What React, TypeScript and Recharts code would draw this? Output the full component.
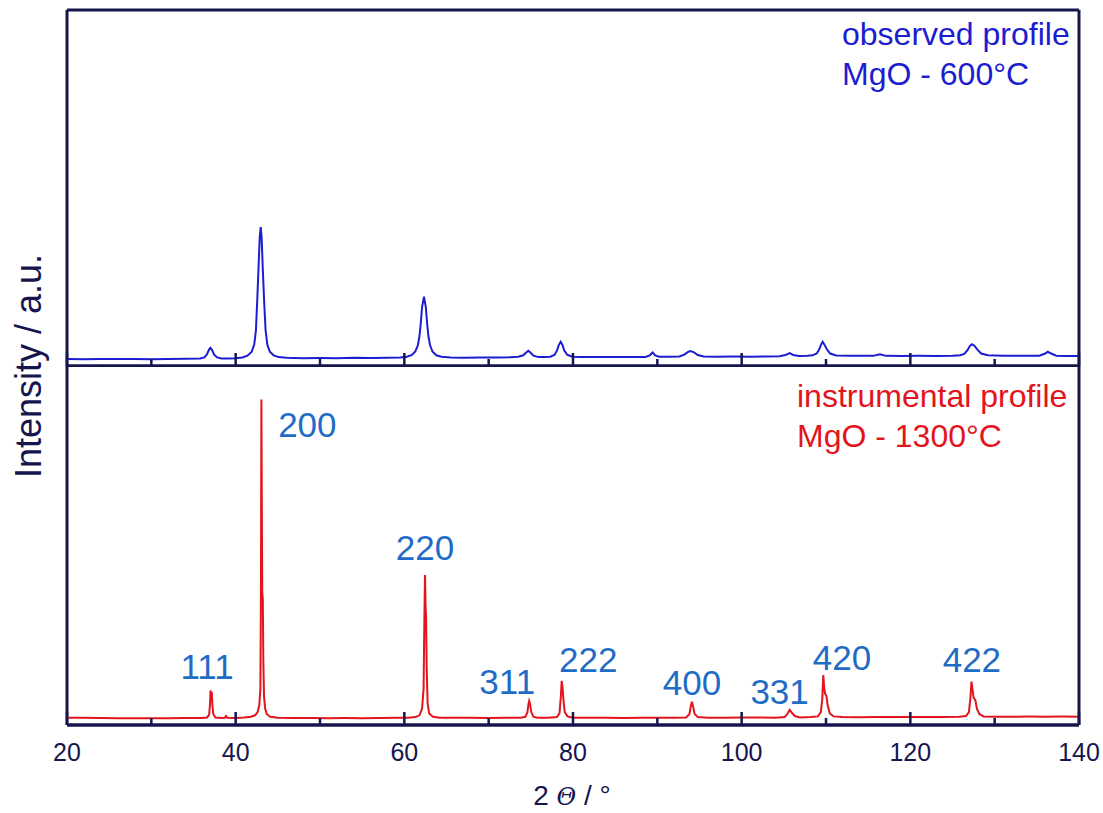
import { LineChart, Line, XAxis, YAxis, ReferenceLine, ReferenceDot } from 'recharts';

// 2-theta / intensity pairs (intensity in % of panel height)
const observedProfile: [number, number][] = [
  [20, 2.0], [22, 1.9], [24, 2.0], [26, 1.95], [28, 2.0], [30, 1.9], [32, 2.0], [34, 2.05], [35.8, 2.1],
  [36.3, 2.4], [36.6, 3.3], [36.85, 4.6], [37.0, 5.1], [37.2, 4.5], [37.45, 3.2], [37.8, 2.4], [38.3, 2.1], [39.2, 2.1], [40.0, 2.2],
  [40.8, 2.4], [41.4, 2.9], [41.9, 4.0], [42.2, 6.0], [42.4, 10], [42.55, 18], [42.7, 27], [42.85, 36], [42.97, 39],
  [43.08, 36], [43.22, 27], [43.38, 18], [43.55, 10], [43.75, 6.0], [44.05, 4.0], [44.5, 3.0], [45.1, 2.5],
  [46, 2.3], [48, 2.2], [50, 2.25], [52, 2.2], [54, 2.3], [56, 2.25], [58, 2.3],
  [59.5, 2.4], [60.3, 2.6], [60.9, 3.1], [61.3, 4.1], [61.6, 5.8], [61.8, 8.5], [61.95, 12], [62.1, 16.5], [62.33, 19.5],
  [62.55, 16.5], [62.7, 12], [62.85, 8.5], [63.05, 5.8], [63.35, 4.0], [63.8, 3.0], [64.4, 2.6], [65.5, 2.4],
  [67, 2.35], [69, 2.4], [71, 2.4], [72.5, 2.45],
  [73.5, 2.6], [74.1, 3.0], [74.45, 3.8], [74.7, 4.3], [74.95, 3.8], [75.3, 2.9], [75.9, 2.5], [76.6, 2.5],
  [77.3, 2.6], [77.8, 3.1], [78.1, 4.3], [78.3, 5.8], [78.54, 6.8], [78.75, 5.9], [78.95, 4.4], [79.3, 3.2], [79.9, 2.6],
  [81, 2.5], [83, 2.5], [85, 2.55], [87, 2.5], [88.6, 2.55],
  [89.1, 3.0], [89.45, 3.8], [89.75, 3.0], [90.2, 2.6], [91.5, 2.6],
  [92.6, 2.7], [93.2, 3.2], [93.6, 3.9], [93.9, 4.2], [94.3, 3.9], [94.8, 3.1], [95.5, 2.7],
  [97, 2.6], [99, 2.65], [101, 2.6], [103, 2.7], [104.5, 2.75],
  [105.2, 3.1], [105.7, 3.6], [106.1, 3.1], [106.8, 2.8], [107.8, 2.85],
  [108.4, 3.0], [108.9, 3.5], [109.2, 4.7], [109.42, 6.0], [109.6, 6.8], [109.82, 6.0], [110.1, 4.7], [110.5, 3.5], [111.2, 2.95],
  [113, 2.85], [115.6, 2.85], [116.4, 3.3], [117.1, 2.85], [119, 2.8], [121, 2.85], [123, 2.8], [125, 2.85],
  [125.9, 3.0], [126.4, 3.4], [126.8, 4.5], [127.05, 5.6], [127.3, 6.1], [127.6, 5.7], [127.95, 4.6], [128.4, 3.5], [129.2, 3.0],
  [131, 2.85], [133, 2.85], [135.3, 2.9], [136.0, 3.5], [136.3, 4.0], [136.7, 3.5], [137.3, 2.9], [138.5, 2.8], [140, 2.8],
];

const instrumentalProfile: [number, number][] = [
  [20, 2.0], [22, 2.05], [24, 1.95], [26, 1.9], [28, 1.85], [30, 1.9], [32, 1.9], [34, 1.95], [36, 1.95],
  [36.6, 2.1], [36.85, 2.8], [36.95, 5.5], [37.02, 9.6], [37.1, 8.6], [37.16, 9.2], [37.24, 5.5], [37.35, 3.0], [37.6, 2.1], [38.3, 1.95],
  [38.7, 2.0], [38.85, 2.5], [39.0, 2.0], [40, 1.95], [41, 2.1], [41.8, 2.3], [42.3, 2.7], [42.6, 3.6], [42.8, 5.5],
  [42.93, 10], [43.0, 38], [43.05, 90.7], [43.1, 62], [43.15, 37], [43.22, 35], [43.28, 18], [43.36, 8], [43.5, 4.5], [43.7, 3.0], [44.1, 2.3],
  [45, 2.0], [47, 1.95], [49, 1.95], [51, 1.9], [53, 1.95], [55, 1.9], [57, 1.95], [59, 2.0], [60.5, 2.05],
  [61.3, 2.2], [61.8, 2.7], [62.1, 4.5], [62.28, 10], [62.38, 30], [62.45, 41.8], [62.52, 33], [62.58, 30], [62.65, 16], [62.76, 6],
  [62.95, 3.2], [63.4, 2.3], [64.2, 2.05], [66, 2.0], [68, 2.0], [70, 1.95], [72, 2.0], [73.8, 2.05],
  [74.35, 2.3], [74.58, 3.4], [74.72, 5.8], [74.8, 6.7], [74.9, 6.0], [75.05, 3.6], [75.3, 2.3], [75.8, 2.05], [77, 2.0], [78.1, 2.2],
  [78.4, 3.3], [78.56, 8], [78.66, 12.3], [78.76, 10.5], [78.86, 7.2], [79.02, 3.6], [79.35, 2.4], [80, 2.05],
  [82, 2.0], [84, 2.0], [86, 1.95], [88, 2.0], [90, 2.0], [92, 2.05], [93.4, 2.1],
  [93.8, 3.0], [93.98, 5.4], [94.1, 6.5], [94.22, 5.4], [94.42, 3.1], [94.8, 2.2],
  [96, 2.05], [98, 2.05], [100, 2.1], [102, 2.1], [104, 2.05], [105.1, 2.2],
  [105.45, 3.2], [105.7, 4.2], [105.95, 3.4], [106.3, 2.5], [106.9, 2.1], [108.2, 2.2],
  [109.05, 2.4], [109.38, 3.6], [109.56, 7.2], [109.68, 13.9], [109.78, 10.5], [109.9, 8.6], [110.05, 8.2], [110.2, 5.5], [110.45, 3.2], [110.9, 2.4],
  [112, 2.2], [114, 2.15], [116, 2.25], [118, 2.2], [120, 2.25], [122, 2.2], [124, 2.25], [125.8, 2.3],
  [126.6, 2.5], [126.95, 3.6], [127.12, 7.5], [127.25, 12.1], [127.37, 10], [127.5, 7.6], [127.7, 7.0], [127.9, 4.5], [128.2, 3.0], [128.7, 2.4],
  [130, 2.3], [132, 2.3], [134, 2.35], [136, 2.3], [138, 2.35], [140, 2.3],
];

// hkl labels, placed at (2theta, intensity) of their text centre
const peakLabels = [
  { hkl: '111', t: 36.6, v: 16.2 },
  { hkl: '200', t: 48.5, v: 83.6 },
  { hkl: '220', t: 62.45, v: 49.3 },
  { hkl: '311', t: 72.2, v: 12.0 },
  { hkl: '222', t: 81.8, v: 18.1 },
  { hkl: '400', t: 94.1, v: 11.7 },
  { hkl: '331', t: 104.5, v: 9.2 },
  { hkl: '420', t: 111.9, v: 18.7 },
  { hkl: '422', t: 127.3, v: 18.1 },
];

const xTicks = [20, 30, 40, 50, 60, 70, 80, 90, 100, 110, 120, 130, 140];

const AXIS = '#16164f';
const BLUE = '#1c1cd0';
const RED = '#e3141c';
const HKL = '#1f6cc6';
const FONT = '"Liberation Sans", Arial, sans-serif';

const toRows = (pts: [number, number][]) => pts.map(([t, v]) => ({ t, v }));

function AxisTick(props: any) {
  const { x, y, payload, showLabel } = props;
  const major = payload.value % 20 === 0;
  return (
    <g>
      <line x1={x} x2={x} y1={y} y2={y - (major ? 13 : 7)} stroke={AXIS} strokeWidth={2.5} />
      {showLabel && major && (
        <text x={x} y={y + 27} textAnchor="middle" dominantBaseline="central" fontSize={25} fill={AXIS}>
          {payload.value}
        </text>
      )}
    </g>
  );
}

function Panel({ data, color, height, top, axisHeight, showLabels, children }: any) {
  const isTop = top === 0;
  return (
    <div style={{ position: 'absolute', left: 0, top }}>
      <LineChart width={1103} height={height} data={data} margin={{ top: isTop ? 10 : 0, right: 24, left: 67, bottom: 0 }}>
        <XAxis
          type="number"
          dataKey="t"
          domain={[20, 140]}
          ticks={xTicks}
          interval={0}
          height={axisHeight}
          tickSize={0}
          tickMargin={0}
          tickLine={false}
          axisLine={{ stroke: AXIS, strokeWidth: 3 }}
          tick={(p: any) => <AxisTick {...p} showLabel={showLabels} />}
        />
        <YAxis type="number" domain={[0, 100]} hide />
        <ReferenceLine x={20} stroke={AXIS} strokeWidth={3} />
        <ReferenceLine x={140} stroke={AXIS} strokeWidth={3} />
        <ReferenceLine y={0} stroke={AXIS} strokeWidth={3} />
        {isTop && <ReferenceLine y={100} stroke={AXIS} strokeWidth={3} />}
        <Line
          type="linear"
          dataKey="v"
          stroke={color}
          strokeWidth={2}
          dot={false}
          isAnimationActive={false}
        />
        {children}
      </LineChart>
    </div>
  );
}

export default function App() {
  return (
    <div
      style={{
        position: 'absolute',
        left: 0,
        top: 0,
        width: 1103,
        height: 813,
        background: '#fff',
        fontFamily: FONT,
      }}
    >
      <Panel data={toRows(observedProfile)} color={BLUE} height={367} top={0} axisHeight={1} showLabels={false} />
      <Panel data={toRows(instrumentalProfile)} color={RED} height={447} top={366} axisHeight={88} showLabels>
        {peakLabels.map((p) => (
          <ReferenceDot
            key={p.hkl}
            x={p.t}
            y={p.v}
            r={1}
            fill="none"
            stroke="none"
            label={{ value: p.hkl, position: 'center', fill: HKL, fontSize: 35 }}
          />
        ))}
      </Panel>
      <svg width={1103} height={813} style={{ position: 'absolute', left: 0, top: 0, pointerEvents: 'none' }}>
        <text x={842} y={45} fontSize={32} fill={BLUE}>observed profile</text>
        <text x={842} y={85} fontSize={32} fill={BLUE}>MgO - 600°C</text>
        <text x={797} y={407} fontSize={32} fill={RED}>instrumental profile</text>
        <text x={797} y={447} fontSize={32} fill={RED}>MgO - 1300°C</text>
        <text x={572} y={805} textAnchor="middle" fontSize={28} fill={AXIS}>
          2 <tspan fontStyle="italic" fontFamily="DejaVu Serif" fontSize={24}>Θ</tspan> / °
        </text>
        <text transform="translate(41, 366) rotate(-90)" textAnchor="middle" fontSize={36} fill={AXIS}>
          Intensity / a.u.
        </text>
      </svg>
    </div>
  );
}
